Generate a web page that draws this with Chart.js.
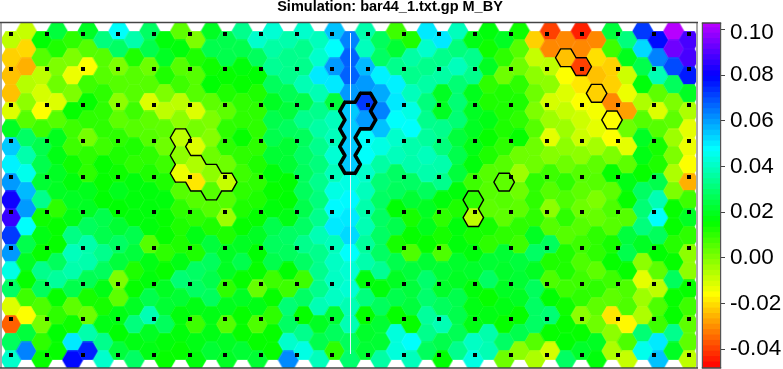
<!DOCTYPE html>
<html><head><meta charset="utf-8">
<style>
html,body{margin:0;padding:0;background:#fff;overflow:hidden}
#wrap{position:relative;width:783px;height:369px}
canvas{position:absolute;top:0}
</style>
<script src="https://cdn.jsdelivr.net/npm/chart.js@4"></script>
</head><body>
<div id="wrap"><canvas id="main" width="778" height="369" style="left:0"></canvas><canvas id="bar" width="86" height="369" style="left:697px"></canvas></div>
<script>
const chartTitle = "Simulation: bar44_1.txt.gp M_BY";
// cell values x 1000; one array per hex column, rows top to bottom
const c00=[-8,-22,-24,-24,-12,20,54,49,60,81,86,72,60,44,28,-12,-36,27,41];
const c01=[-9,-21,-26,-7,-2,5,28,37,45,56,60,47,25,20,15,8,-16,23,63];
const c02=[16,5,-8,-11,-16,8,25,25,22,33,14,18,15,33,27,6,1,10,15];
const c03=[23,12,0,2,-12,5,19,18,20,20,10,15,15,27,35,15,10,16,15];
const c04=[10,0,-14,0,15,8,8,14,17,20,18,32,39,37,25,4,14,50,78];
const c05=[20,5,-16,8,15,10,1,10,10,19,20,27,37,37,26,13,2,37,75];
const c06=[31,5,5,10,10,10,8,15,15,16,25,25,33,27,18,13,18,33,41];
const c07=[47,28,0,5,-2,4,10,12,14,19,16,22,28,23,0,4,18,16,23];
const c08=[37,12,5,5,8,5,12,10,17,17,17,25,23,12,15,20,31,18,28];
const c09=[28,25,2,5,-12,4,5,10,12,17,17,17,5,18,17,25,38,20,18];
const c10=[17,20,12,0,-8,4,2,8,12,17,15,15,10,15,20,22,27,17,15];
const c11=[4,17,5,8,-8,-2,-8,-2,-14,5,10,12,12,18,30,22,17,17,15];
const c12=[0,12,5,5,-12,1,-12,-6,-19,5,10,18,12,28,28,18,8,18,17];
const c13=[20,25,14,16,4,0,-1,2,-2,5,5,12,23,27,25,27,18,18,22];
const c14=[25,25,15,12,4,10,10,2,-9,5,-4,12,20,20,10,19,5,20,20];
const c15=[33,25,17,15,10,10,15,10,8,10,12,15,20,25,15,20,15,15,22];
const c16=[41,27,16,12,10,10,10,12,10,12,15,20,16,15,3,18,6,15,22];
const c17=[42,36,34,27,20,25,25,22,17,15,17,25,27,25,8,15,10,15,15];
const c18=[37,33,33,26,23,27,22,22,16,16,18,28,27,16,8,30,28,41,62];
const c19=[41,33,33,38,25,33,27,28,27,27,25,28,33,28,8,28,15,33,44];
const c20=[39,41,50,38,33,36,33,31,33,31,33,38,33,33,33,38,20,25,39];
const c21=[55,47,60,50,23,39,39,42,39,44,48,50,39,40,40,40,22,27,10];
const c22=[63,67,67,60,54,54,54,54,44,48,50,52,47,42,42,38,38,27,29];
const c23=[37,39,56,60,72,60,47,47,41,39,37,38,35,37,17,31,15,21,22];
const c24=[27,28,49,58,63,55,44,36,30,28,28,28,28,34,17,27,22,22,36];
const c25=[8,22,33,49,50,47,41,39,28,27,16,25,13,25,20,25,15,43,43];
const c26=[12,36,33,39,44,47,37,37,28,22,13,15,6,23,23,23,15,47,39];
const c27=[50,41,33,36,31,33,35,39,37,27,20,19,15,22,29,29,35,33,27];
const c28=[50,33,36,20,20,33,31,37,33,17,10,13,6,22,21,27,38,25,16];
const c29=[39,31,39,30,30,30,23,25,23,17,12,17,17,21,20,25,25,26,33];
const c30=[18,33,33,19,20,20,18,17,8,10,-8,13,17,21,17,18,18,40,44];
const c31=[17,14,20,10,12,18,15,12,5,5,4,13,10,22,28,15,18,37,38];
const c32=[20,10,2,12,12,12,10,5,4,5,4,10,22,21,20,18,15,28,2];
const c33=[14,5,2,10,12,10,15,2,-4,2,4,10,8,23,22,20,15,25,-2];
const c34=[-22,-9,-2,2,0,5,2,2,10,10,10,20,28,20,27,28,28,5,-6];
const c35=[-40,-31,-8,-2,-11,-4,-13,-1,8,5,-2,5,27,12,6,16,30,15,-11];
const c36=[-31,-24,-16,-12,-9,-4,-2,2,10,6,10,5,12,12,8,14,15,16,28];
const c37=[-44,-31,-40,-19,-16,-10,-10,-2,5,4,2,5,8,6,8,10,-2,15,21];
const c38=[-31,-20,-24,-22,-15,-13,-5,4,5,0,3,10,10,4,10,4,2,20,17];
const c39=[23,8,-22,-22,-31,-16,-16,0,15,4,6,5,13,15,8,4,-19,-2,-6];
const c40=[31,19,-10,-14,-28,2,-13,4,18,15,5,23,25,15,6,6,-17,6,-9];
const c41=[72,52,25,17,-6,5,20,18,15,28,30,31,20,-2,-13,-4,-6,30,45];
const c42=[78,63,38,4,-12,5,13,12,25,38,47,27,16,4,-8,6,8,50,55];
const c43=[102,93,70,27,0,4,-4,0,-6,0,15,15,11,15,27,15,15,33,20];
const c44=[88,88,76,20,-6,-13,-14,-16,-26,8,20,10,-2,-2,15,8,4,4,-8];
const columns=[c00,c01,c02,c03,c04,c05,c06,c07,c08,c09,c10,c11,c12,c13,c14,c15,c16,c17,c18,c19,c20,c21,c22,c23,c24,c25,c26,c27,c28,c29,c30,c31,c32,c33,c34,c35,c36,c37,c38,c39,c40,c41,c42,c43,c44];

const dotXs=[0,2.3361,4.6722,6.9434,9.2794,11.6155,13.8867,16.2228,18.5588,20.83,23.1661,25.5022,27.7734,30.1094,32.4455,34.7816,37.0528,39.3889,41.7249,43.9961];
const dotYs=[-0.3378,1.632,3.6581,5.6842,7.7103,9.6801,11.7061,13.7322,15.702,17.7281];
const thickCells=[[23,4],[23,5],[22,4],[22,5],[22,6],[22,7]];
const thinCells=[[11,6],[11,7],[11,8],[12,7],[12,8],[13,8],[13,9],[14,8],[30,9],[30,10],[32,8],[36,1],[37,2],[38,3],[39,5]];
const seamX=[22.0306,22.0306];
const seamY=[-0.39,17.67];
const barTicks=[-0.04,-0.02,0,0.02,0.04,0.06,0.08,0.10];

const VMIN=-0.048, VMAX=0.103, HUE=285;
function colorOf(v){
  const t=Math.max(0,Math.min(1,(v-VMIN)/(VMAX-VMIN)));
  return 'hsl('+(t*HUE).toFixed(1)+',100%,50%)';
}
const hexCache={};
function hexImage(col){
  if(hexCache[col])return hexCache[col];
  const c=document.createElement('canvas');c.width=22;c.height=19;
  const g=c.getContext('2d');
  const R=10.6,H=9.2,cx=11,cy=9.5;
  g.fillStyle=col;g.beginPath();
  g.moveTo(cx+R,cy);g.lineTo(cx+R/2,cy+H);g.lineTo(cx-R/2,cy+H);g.lineTo(cx-R,cy);g.lineTo(cx-R/2,cy-H);g.lineTo(cx+R/2,cy-H);
  g.closePath();g.fill();
  return hexCache[col]=c;
}
const rowOf=(c,r)=>r-(c%2?0.5:0);
const cellData=[];
columns.forEach((vals,c)=>vals.forEach((v,r)=>cellData.push({x:c,y:rowOf(c,r),v:v/1000})));
const dotData=[];
dotYs.forEach(y=>dotXs.forEach(x=>dotData.push({x,y})));
function outline(cells){
  const edges=new Map();
  cells.forEach(([c,r])=>{
    const x=c,y=rowOf(c,r);
    const vs=[[x+2/3,y],[x+1/3,y+.5],[x-1/3,y+.5],[x-2/3,y],[x-1/3,y-.5],[x+1/3,y-.5]];
    vs.forEach((a,i)=>{
      const b=vs[(i+1)%6];
      const k=((a[0]+b[0])*3).toFixed(1)+'_'+((a[1]+b[1])*2).toFixed(1);
      if(edges.has(k))edges.delete(k);else edges.set(k,[a,b]);
    });
  });
  const out=[];
  edges.forEach(([a,b])=>{out.push({x:a[0],y:a[1]},{x:b[0],y:b[1]},{x:a[0],y:null});});
  return out;
}
const framePlugin={id:'frame',afterDraw(chart,args,o){
  const a=chart.chartArea,g=chart.ctx;
  g.save();
  g.lineWidth=o.sideWidth;g.strokeStyle=o.side;
  g.beginPath();g.moveTo(a.left-o.sideWidth/2,a.top);g.lineTo(a.left-o.sideWidth/2,a.bottom);
  g.moveTo(a.right+o.sideWidth/2,a.top);g.lineTo(a.right+o.sideWidth/2,a.bottom);g.stroke();
  g.lineWidth=o.tbWidth;g.strokeStyle=o.tb;
  g.beginPath();g.moveTo(a.left-o.sideWidth,a.top);g.lineTo(a.right+o.sideWidth,a.top);
  g.moveTo(a.left-o.sideWidth,a.bottom);g.lineTo(a.right+o.sideWidth,a.bottom);g.stroke();
  g.restore();
}};
const lineDs=(data,w)=>({type:'scatter',data,showLine:true,borderColor:'#000',borderWidth:w,pointRadius:0,borderCapStyle:'round',borderJoinStyle:'round',spanGaps:false,order:0});
new Chart(document.getElementById('main'),{
  type:'scatter',
  data:{datasets:[
    {data:cellData,order:4,pointRadius:10,pointHoverRadius:10,pointBorderWidth:0,pointStyle:ctx=>hexImage(colorOf(ctx.raw?ctx.raw.v:0))},
    {data:seamX.map((x,i)=>({x,y:seamY[i]})),showLine:true,borderColor:'rgba(225,247,255,0.9)',borderWidth:1,pointRadius:0,order:3},
    {data:dotData,order:2,pointStyle:'rect',pointRadius:2.8285,backgroundColor:'#000',borderColor:'#000',borderWidth:0},
    lineDs(outline(thickCells),3.6),
    lineDs(outline(thinCells),1.4)
  ]},
  plugins:[framePlugin],
  options:{
    responsive:false,animation:false,events:[],
    devicePixelRatio:1,
    layout:{autoPadding:false,padding:{left:2,right:0,top:0,bottom:1}},
    plugins:{
      legend:{display:false},tooltip:{enabled:false},
      title:{display:true,text:chartTitle,color:'#000',font:{family:'"Liberation Sans",Arial,sans-serif',size:14.5,weight:'bold',lineHeight:1},padding:{top:0,bottom:8}},
      frame:{side:'#a8a8a8',sideWidth:2,tb:'#444',tbWidth:1.6}
    },
    scales:{
      x:{type:'linear',display:false,min:-0.584,max:44.45},
      y:{type:'linear',display:false,reverse:true,min:-0.985,max:18.46},
      gutter:{axis:'y',type:'linear',position:'right',display:true,grid:{display:false},border:{display:false},ticks:{display:false},afterFit:s=>{s.width=82;s.paddingTop=0;s.paddingBottom=0;}}
    }
  }
});
const LEVELS=64,step=(VMAX-VMIN)/LEVELS,barSets=[];
for(let i=0;i<LEVELS;i++){
  const l=VMIN+i*step;
  barSets.push({data:[[l,l+step*1.06]],backgroundColor:colorOf(l+step/2),borderWidth:0,grouped:false,barPercentage:1,categoryPercentage:1});
}
const labelNudge={id:'labelNudge',beforeDraw(chart){
  if(chart.$nudged)return;chart.$nudged=true;
  chart.scales.y.getLabelItems().forEach(it=>{if(it.label==='0.10')it.options.translation[1]+=3.7;});
}};
new Chart(document.getElementById('bar'),{
  type:'bar',
  data:{labels:['M_BY'],datasets:barSets},
  plugins:[framePlugin,labelNudge],
  options:{
    responsive:false,animation:false,events:[],devicePixelRatio:1,
    layout:{autoPadding:false,padding:{left:6,right:0,top:23,bottom:1}},
    plugins:{legend:{display:false},tooltip:{enabled:false},title:{display:false},
      frame:{side:'#555',sideWidth:1.2,tb:'#444',tbWidth:1.4}},
    scales:{
      x:{display:false},
      y:{type:'linear',position:'right',min:-0.0482,max:0.1028,
        afterBuildTicks:s=>{s.ticks=barTicks.map(value=>({value}));},
        afterFit:s=>{s.width=63;s.paddingTop=0;s.paddingBottom=0;},
        grid:{drawOnChartArea:false,color:'#444',tickLength:5,lineWidth:1},
        border:{display:false},
        ticks:{color:'#000',padding:5,autoSkip:false,maxRotation:0,font:{family:'"Liberation Sans",Arial,sans-serif',size:22.5},callback:v=>v.toFixed(2)}
      }
    }
  }
});
</script>
</body></html>
